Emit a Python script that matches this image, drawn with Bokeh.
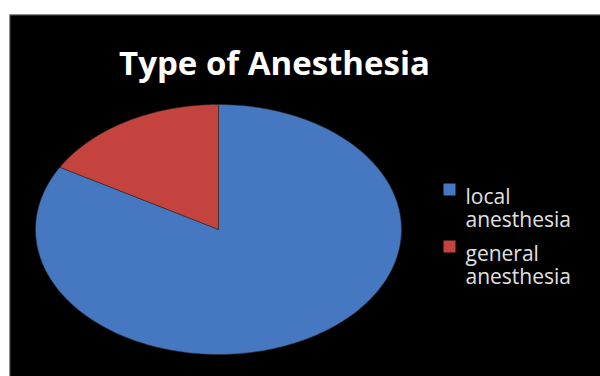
import numpy as np
from bokeh.plotting import figure
from bokeh.models import Range1d
from bokeh.core.properties import value
from bokeh.embed import file_html
from bokeh.resources import INLINE

# ---- data ----
title_text = "Type of Anesthesia"
categories = ["local anesthesia", "general anesthesia"]
legend_lines = [["local", "anesthesia"], ["general", "anesthesia"]]
shares = [83.3, 16.7]
colors = ["#4678c2", "#c5433f"]

# ---- layout (pixel-like data coordinates, y grows downward) ----
W, H = 600, 376
left, top = 9, 14
cx, cy, rx, ry = 218, 229, 183, 125

p = figure(width=W, height=H, output_backend="svg", toolbar_location=None,
           x_range=Range1d(left, W), y_range=Range1d(H, top),
           min_border_left=left, min_border_top=top, min_border_right=0, min_border_bottom=0)
p.axis.visible = False
p.grid.visible = False
p.background_fill_color = "black"
p.border_fill_color = "white"
p.outline_line_color = None

# thin grey edge on the left and top of the black panel
p.segment(x0=[left, left], y0=[top, top], x1=[left, W], y1=[H, top],
          line_color="#9a9a9a", line_width=1.5)

# pie slices: clockwise from 12 o'clock
total = float(sum(shares))
cum = np.concatenate([[0.0], np.cumsum(shares) / total])
xs, ys = [], []
for i in range(len(shares)):
    t = np.linspace(np.pi / 2 - 2 * np.pi * cum[i], np.pi / 2 - 2 * np.pi * cum[i + 1], 200)
    xs.append([cx] + list(cx + rx * np.cos(t)) + [cx])
    ys.append([cy] + list(cy - ry * np.sin(t)) + [cy])
p.patches(xs=xs, ys=ys, fill_color=colors, line_color="#2a2a2a", line_width=1, line_alpha=0.6)

# title
p.text(x=[274], y=[62], text=[title_text], text_color="white", text_font=value("Open Sans"),
       text_font_style="bold", text_font_size="33px", text_align="center",
       text_baseline="alphabetic")

# legend
lx, ly0, step, lh = 449, 189, 57, 23
for i, lines in enumerate(legend_lines):
    yy = ly0 + i * step
    p.scatter(x=[lx], y=[yy], marker="square", size=12, fill_color=colors[i],
              line_color=None)
    p.text(x=[465] * len(lines), y=[yy + 6 + k * lh for k in range(len(lines))], text=lines,
           text_color="#e0e0e0", text_font=value("Open Sans"), text_font_size="21px",
           text_align="left", text_baseline="alphabetic")

open("out.html", "w").write(file_html(p, INLINE))
